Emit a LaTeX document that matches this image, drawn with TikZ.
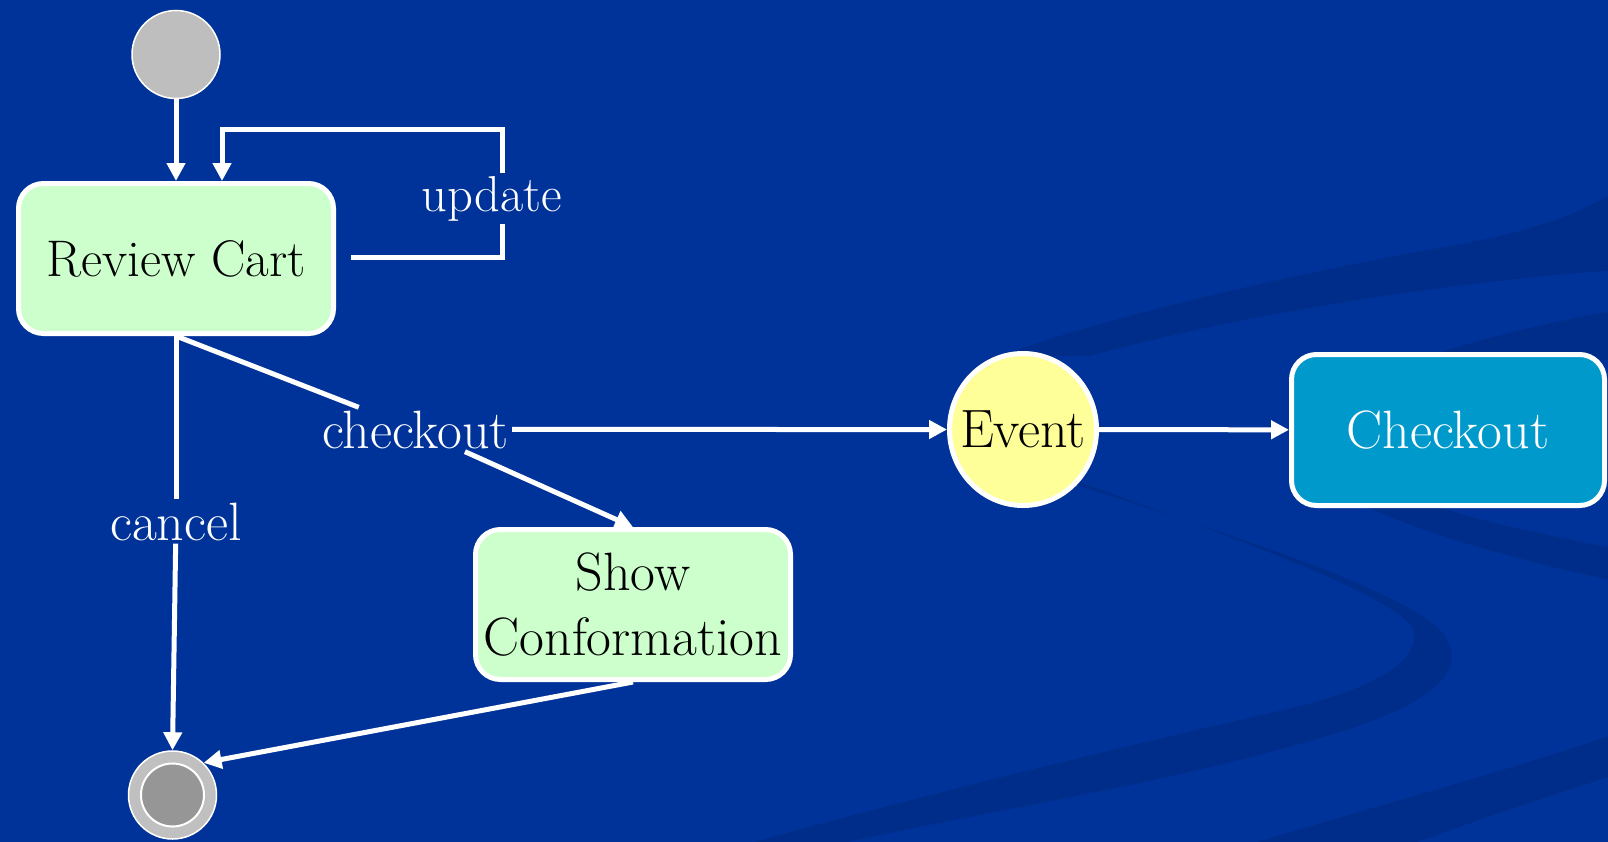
\documentclass[tikz,border=0pt]{standalone}
\usepackage{fontspec}
\usetikzlibrary{arrows.meta,shapes.geometric}

\definecolor{bg}{RGB}{0,51,153}
\definecolor{swirl}{RGB}{0,45,138}
\definecolor{stategreen}{RGB}{204,255,204}
\definecolor{eventyellow}{RGB}{255,255,153}
\definecolor{checkblue}{RGB}{0,153,204}
\definecolor{startgray}{RGB}{190,190,190}
\definecolor{ringgray}{RGB}{192,192,192}
\definecolor{endgray}{RGB}{150,150,150}

\begin{document}
\begin{tikzpicture}[x=1pt,y=-1pt,
  every node/.style={font=\fontsize{54}{65}\selectfont},
  statebox/.style={draw=white,line width=5pt,rounded corners=25pt,fill=stategreen,
    minimum width=315pt,minimum height=150pt,align=center,text=black,inner sep=0pt},
  eventnode/.style={ellipse,draw=white,line width=5pt,fill=eventyellow,
    minimum width=147pt,minimum height=152pt,inner sep=-20pt,text=black},
  pseudo/.style={circle,draw=white,line width=1.5pt,inner sep=0pt},
  wire/.style={draw=white,line width=5pt},
  arr/.style={wire,-{Triangle[length=18pt,width=18pt]}},
  lbl/.style={text=white,inner sep=3pt,anchor=base},
]
\useasboundingbox (0,0) rectangle (1608,841);
\fill[bg] (-10,-10) rectangle (1618,851);

% background swooshes
\begin{scope}
  \clip (-10,-10) rectangle (1618,851);
  % upper band rising to the right
  \fill[swirl] (1000,356) .. controls (1100,318) and (1300,272) .. (1450,246)
    .. controls (1530,232) and (1580,214) .. (1618,190) -- (1618,270)
    .. controls (1450,282) and (1250,312) .. (1090,356) -- cycle;
  % curl behind the checkout box
  \fill[swirl] (1618,310) .. controls (1420,345) and (1290,400) .. (1300,450)
    .. controls (1310,500) and (1450,545) .. (1618,582) -- (1618,549)
    .. controls (1480,522) and (1380,500) .. (1372,460)
    .. controls (1365,410) and (1480,375) .. (1618,358) -- cycle;
  % thin line turning into the wide S band
  \fill[swirl] (1070,483) .. controls (1250,540) and (1405,592) .. (1442,632)
    .. controls (1472,670) and (1432,705) .. (1330,735)
    .. controls (1150,790) and (950,815) .. (770,860) -- (690,860)
    .. controls (900,800) and (1100,752) .. (1300,706)
    .. controls (1395,682) and (1422,652) .. (1412,627)
    .. controls (1392,597) and (1250,542) .. (1070,479) -- cycle;
  % lower right band
  \fill[swirl] (1618,733) .. controls (1480,780) and (1350,812) .. (1200,860)
    -- (1370,860) .. controls (1480,818) and (1550,796) .. (1618,774) -- cycle;
\end{scope}

% states
\node[pseudo,fill=startgray,minimum size=88pt] (st) at (176,54.5) {};
\node[statebox,font=\fontsize{51.5}{65}\selectfont] (rc) at (176,258.5) {Review Cart};
\node[statebox] (sc) at (633,604.5) {Show\\Conformation};
\node[eventnode] (ev) at (1023,429.5) {Event};
\node[statebox,fill=checkblue,text=white,minimum width=313pt,minimum height=151pt]
  (ck) at (1448,430) {Checkout};
\node[pseudo,fill=ringgray,minimum size=88pt] (fin) at (172.5,795) {};
\node[pseudo,line width=2pt,fill=endgray,minimum size=63pt] (finin) at (fin.center) {};

% transition labels
\node[lbl,font=\fontsize{50.5}{60}\selectfont] (upd) at (492,211) {update};
\node[lbl] (chk) at (415.5,448) {checkout};
\node[lbl] (cnl) at (176,540) {cancel};

% transitions
\draw[arr] (st) -- (rc.north);

\coordinate (loopTR) at (502,129.5);
\draw[wire] ([xshift=15pt,yshift=1.5pt]rc.east) -| (upd.south -| loopTR);
\draw[arr] (upd.north -| loopTR) -- (loopTR) -| ([xshift=46pt]rc.north);

\draw[wire] (rc.south) -- (chk);
\draw[arr] (chk) -- (sc.north);
\draw[arr] (chk) -- (ev);
\draw[arr] (ev) -- (ck);

\draw[wire] (rc.south) -- (cnl);
\draw[arr] (cnl) -- (fin.north);
\draw[arr] (sc.south) -- (fin.46);
\end{tikzpicture}
\end{document}
